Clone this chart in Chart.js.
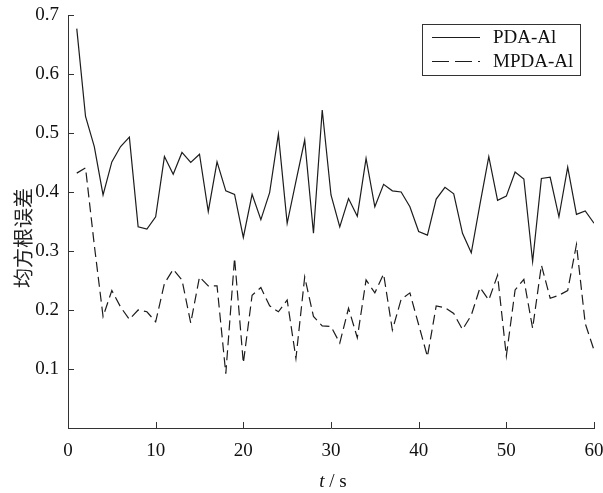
<!DOCTYPE html>
<html>
<head>
<meta charset="utf-8">
<script src="https://cdn.jsdelivr.net/npm/chart.js@4.4.0/dist/chart.umd.min.js"></script>
<style>
  html, body { margin: 0; padding: 0; background: #fff; }
  #wrap { width: 603px; height: 493px; }
</style>
</head>
<body>
<div id="wrap"><canvas id="chart" width="603" height="493"></canvas></div>
<script>
// time (s)
const tValues = [1, 2, 3, 4, 5, 6, 7, 8, 9, 10, 11, 12, 13, 14, 15, 16, 17, 18, 19, 20,
  21, 22, 23, 24, 25, 26, 27, 28, 29, 30, 31, 32, 33, 34, 35, 36, 37, 38, 39, 40,
  41, 42, 43, 44, 45, 46, 47, 48, 49, 50, 51, 52, 53, 54, 55, 56, 57, 58, 59, 60];

// RMSE, PDA-Al
const pdaAl = [0.677, 0.528, 0.477, 0.395, 0.451, 0.477, 0.493, 0.341, 0.337, 0.358,
  0.460, 0.430, 0.467, 0.450, 0.464, 0.367, 0.451, 0.402, 0.396, 0.323,
  0.396, 0.353, 0.399, 0.498, 0.347, 0.418, 0.488, 0.330, 0.539, 0.395,
  0.341, 0.389, 0.359, 0.457, 0.375, 0.413, 0.402, 0.400, 0.375, 0.333,
  0.327, 0.388, 0.408, 0.397, 0.330, 0.297, 0.380, 0.460, 0.386, 0.393,
  0.434, 0.422, 0.282, 0.423, 0.425, 0.358, 0.442, 0.362, 0.368, 0.347];

// RMSE, MPDA-Al
const mpdaAl = [0.432, 0.441, 0.310, 0.189, 0.233, 0.205, 0.184, 0.200, 0.197, 0.180,
  0.245, 0.269, 0.251, 0.178, 0.256, 0.241, 0.241, 0.092, 0.288, 0.110,
  0.225, 0.238, 0.207, 0.197, 0.217, 0.118, 0.256, 0.189, 0.173, 0.172,
  0.144, 0.203, 0.153, 0.251, 0.229, 0.261, 0.166, 0.218, 0.229, 0.175,
  0.121, 0.207, 0.204, 0.194, 0.167, 0.191, 0.238, 0.217, 0.259, 0.122,
  0.234, 0.252, 0.169, 0.276, 0.220, 0.225, 0.233, 0.311, 0.177, 0.132];

const xTicks = [0, 10, 20, 30, 40, 50, 60];
const yTicks = [0.1, 0.2, 0.3, 0.4, 0.5, 0.6, 0.7];

const lineColor = '#1c1c1c';
const serif = '"Liberation Serif", "DejaVu Serif", serif';

function pts(ys) {
  return tValues.map((t, i) => ({ x: t, y: ys[i] }));
}

// ticks pointing inwards, legend box, axis titles
const decor = {
  id: 'decor',
  afterDraw(chart) {
    const ctx = chart.ctx;
    const xs = chart.scales.x, ys = chart.scales.y;
    const a = chart.chartArea;
    ctx.save();
    ctx.strokeStyle = '#333';
    ctx.lineWidth = 1;
    ctx.beginPath();
    xTicks.forEach(v => {
      const px = Math.round(xs.getPixelForValue(v)) + 0.5;
      ctx.moveTo(px, a.bottom); ctx.lineTo(px, a.bottom - 6);
    });
    yTicks.forEach(v => {
      const py = Math.round(ys.getPixelForValue(v)) + 0.5;
      ctx.moveTo(a.left, py); ctx.lineTo(a.left + 6, py);
    });
    ctx.stroke();

    // legend
    const lx = 422.5, ly = 24.5, lw = 158, lh = 51;
    ctx.fillStyle = '#fff';
    ctx.fillRect(lx, ly, lw, lh);
    ctx.strokeStyle = '#333';
    ctx.strokeRect(lx, ly, lw, lh);
    chart.data.datasets.forEach((ds, i) => {
      const yy = 37.5 + i * 24;
      ctx.strokeStyle = lineColor;
      ctx.lineWidth = 1.2;
      ctx.setLineDash(i === 1 ? [17, 6] : []);
      ctx.beginPath();
      ctx.moveTo(432, yy); ctx.lineTo(480, yy);
      ctx.stroke();
      ctx.setLineDash([]);
      ctx.fillStyle = '#111';
      ctx.font = '19px ' + serif;
      ctx.textBaseline = 'middle';
      ctx.textAlign = 'left';
      ctx.fillText(ds.label, 493, yy + 1);
    });

    // x title: t / s
    ctx.fillStyle = '#111';
    ctx.textBaseline = 'middle';
    ctx.textAlign = 'left';
    ctx.font = 'italic 19px ' + serif;
    const tw = ctx.measureText('t').width;
    ctx.font = '19px ' + serif;
    const rest = ' / s';
    const rw = ctx.measureText(rest).width;
    const cx = (a.left + a.right) / 2 + 2;
    const x0 = cx - (tw + rw) / 2;
    ctx.font = 'italic 19px ' + serif;
    ctx.fillText('t', x0, 482);
    ctx.font = '19px ' + serif;
    ctx.fillText(rest, x0 + tw, 482);

    // y title
    ctx.translate(23, 238);
    ctx.rotate(-Math.PI / 2);
    ctx.textAlign = 'center';
    ctx.font = '20px "Noto Sans CJK SC", sans-serif';
    ctx.fillStyle = '#222';
    ctx.fillText('均方根误差', 0, 0);
    ctx.restore();
  }
};

const ctx = document.getElementById('chart').getContext('2d');
const myChart = new Chart(ctx, {
  type: 'line',
  data: {
    datasets: [{
      label: 'PDA-Al',
      data: pts(pdaAl),
      borderColor: lineColor,
      borderWidth: 1.2,
      pointRadius: 0,
      tension: 0,
      fill: false
    }, {
      label: 'MPDA-Al',
      data: pts(mpdaAl),
      borderColor: lineColor,
      borderWidth: 1.2,
      borderDash: [10, 5],
      pointRadius: 0,
      tension: 0,
      fill: false
    }]
  },
  options: {
    responsive: false,
    animation: false,
    layout: { padding: { left: 0, top: 15, right: 9, bottom: 0 } },
    plugins: {
      legend: { display: false },
      tooltip: { enabled: false }
    },
    scales: {
      x: {
        type: 'linear',
        min: 0, max: 60,
        afterBuildTicks: s => { s.ticks = xTicks.map(v => ({ value: v })); },
        afterFit: s => { s.height = 65; s.paddingLeft = 0; s.paddingRight = 0; },
        grid: { display: false, drawTicks: false },
        border: { display: true, color: '#333', width: 1 },
        ticks: {
          color: '#111',
          padding: 12,
          maxRotation: 0,
          font: { family: serif, size: 19 }
        }
      },
      y: {
        min: 0, max: 0.7,
        afterBuildTicks: s => { s.ticks = yTicks.map(v => ({ value: v })); },
        afterFit: s => { s.width = 68; s.paddingTop = 0; s.paddingBottom = 0; },
        grid: { display: false, drawTicks: false },
        border: { display: true, color: '#333', width: 1 },
        ticks: {
          color: '#111',
          padding: 9,
          callback: v => v.toFixed(1),
          font: { family: serif, size: 19 }
        }
      }
    }
  },
  plugins: [decor]
});
</script>
</body>
</html>
